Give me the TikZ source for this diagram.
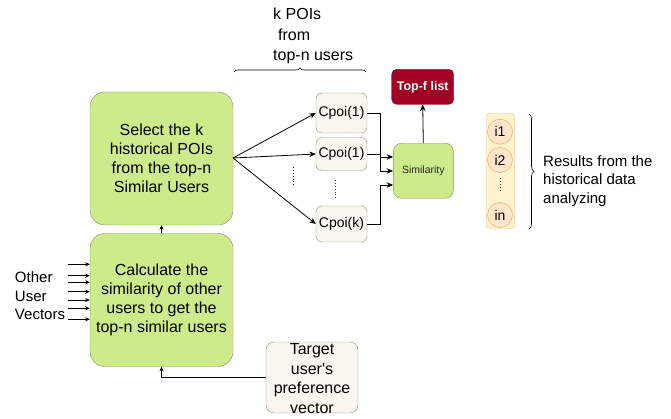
\documentclass[tikz,border=0pt]{standalone}
\usepackage{fontspec}
\defaultfontfeatures[\rmfamily]{}
\setmainfont{Liberation Sans}
\usetikzlibrary{arrows.meta,decorations.pathreplacing,calc}

\definecolor{stepgreen}{HTML}{CDEB8B}
\definecolor{stepgreenline}{HTML}{7F8C6A}
\definecolor{poibeige}{HTML}{F9F7ED}
\definecolor{poiline}{HTML}{8E8E8A}
\definecolor{topred}{HTML}{A20025}
\definecolor{topredline}{HTML}{6F0000}
\definecolor{colfill}{HTML}{FFF2CC}
\definecolor{colline}{HTML}{E3C66E}
\definecolor{itemfill}{HTML}{FFE6CC}
\definecolor{itemline}{HTML}{E0A84A}

\begin{document}
\begin{tikzpicture}[x=1pt,y=-1pt,
  stepbox/.style={draw=stepgreenline,fill=stepgreen,rounded corners=15pt,
    minimum width=143pt,minimum height=133pt,align=center,
    font=\fontsize{16}{19}\selectfont,text=black,inner sep=2pt},
  poibox/.style={draw=poiline,fill=poibeige,rounded corners=6pt,
    minimum width=51pt,align=center,font=\fontsize{14}{16}\selectfont,inner sep=1pt},
  itemcirc/.style={circle,draw=itemline,fill=itemfill,minimum size=25pt,inner sep=0pt,
    font=\fontsize{14}{16}\selectfont},
  plain/.style={align=left,inner sep=0pt},
  arr/.style={-{Stealth[length=6.5pt,width=5.5pt]},line width=0.8pt,black},
  smallarr/.style={-{Stealth[length=4.5pt,width=4pt]},line width=0.7pt,black},
  dotsline/.style={dotted,line width=0.9pt,black!80}
]
\useasboundingbox (0,0) rectangle (671,419);

% main processing steps
\node[stepbox] (select) at (161.5,158.5) {Select the k\\historical POIs\\from the top-n\\Similar Users};
\node[stepbox] (calc) at (161.5,300) {Calculate the\\similarity of other\\users to get the\\top-n similar users};

% target user's vector (text runs past the box)
\node[draw=poiline,fill=poibeige,rounded corners=8pt,minimum width=92pt,minimum height=71pt] (target) at (312,377.5) {};
\node[align=center,font=\fontsize{16}{19.5}\selectfont,inner sep=0pt] (targettext) at ($(target.center)+(0,1)$) {Target\\user's\\preference\\vector};

% candidate POIs
\node[poibox,minimum height=40pt] (c1) at (341.5,113) {Cpoi(1)};
\node[poibox,minimum height=33pt] (c2) at (341.5,154) {Cpoi(1)};
\node[poibox,minimum height=36pt] (ck) at (341.5,224) {Cpoi(k)};

% similarity and result list
\node[draw=stepgreenline,fill=stepgreen,rounded corners=8pt,minimum width=60pt,minimum height=55pt,
  font=\fontsize{10.5}{12}\selectfont,text=black!85] (sim) at (423.3,170.8) {Similarity};
\node[draw=topredline,fill=topred,rounded corners=5pt,minimum width=62pt,minimum height=35pt,
  text=white,font=\bfseries\fontsize{12.5}{14}\selectfont] (topf) at (422.7,86.8) {Top-f list};

% historical result column
\node[draw=colline,fill=colfill,rounded corners=3pt,minimum width=28pt,minimum height=115pt] (col) at (500.5,170.8) {};
\node[itemcirc] (i1) at (500,131.7) {i1};
\node[itemcirc] (i2) at (500,160) {i2};
\node[itemcirc] (in) at (500,215) {in};
\draw[dotsline] (500,178) -- (500,190);

% labels
\node[plain,font=\fontsize{15}{18.5}\selectfont] (other) at (40,296) {Other\\User\\Vectors};
\node[plain,font=\fontsize{16}{20.5}\selectfont,anchor=west] (kpois) at (273,36) {k POIs\\\hspace*{5pt}from\\top-n users};
\node[plain,font=\fontsize{15}{18.3}\selectfont,anchor=west] (results) at (543,181) {Results from the\\historical data\\analyzing};

% braces
\draw[decorate,decoration={brace,amplitude=4pt},line width=0.6pt,black]
  (234,72) -- (366,72);
\draw[decorate,decoration={brace,amplitude=5pt},line width=0.6pt,black]
  (529,114) -- (529,229);

% incoming user vectors
\foreach \yy in {264.3,275.7,282.3,291.7,300,308.3,319.3}
  \draw[smallarr] (68,\yy) -- (calc.west |- 0,\yy);

% flow between steps
\draw[smallarr] (calc.north) -- (select.south);
\draw[smallarr] (target.west) -| (calc.south);

% fan out to candidate POIs
\coordinate (fan) at (233,158);
\draw[arr] (fan) -- (c1.west);
\draw[arr] (fan) -- (c2.west);
\draw[arr] (fan) -- (ck.west);

% dotted gaps
\draw[dotsline] (293,167) -- (293,185);
\draw[dotsline] (335,180) -- (335,199);

% candidates into similarity
\draw[arr] (c1.east) -- (380,113) -- (380,157) -- (sim.west |- 0,157);
\draw[arr] (c2.east) -- (380,154) -- (380,171) -- (sim.west |- 0,171);
\draw[arr] (ck.east) -- (380,224) -- (380,185) -- (sim.west |- 0,185);

% similarity to output list
\draw[arr] (sim.north) -- (topf.south);
\end{tikzpicture}
\end{document}
